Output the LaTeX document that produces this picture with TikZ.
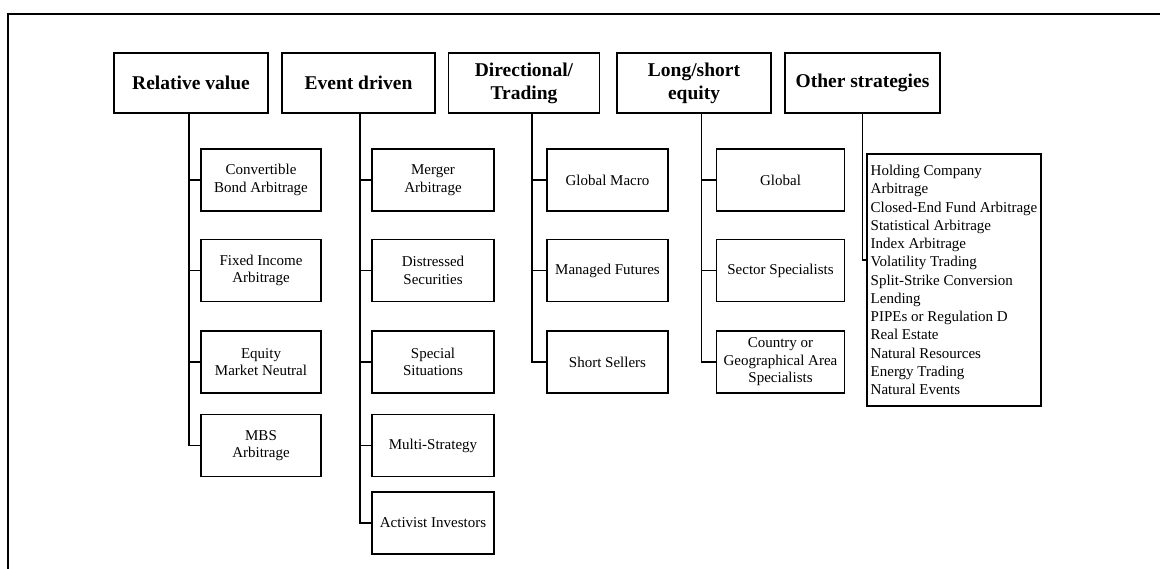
\documentclass[tikz,border=0pt]{standalone}
\usepackage{fontspec}
\setmainfont{Liberation Serif}
\usetikzlibrary{positioning}

\begin{document}
\begin{tikzpicture}[x=1pt,y=-1pt,
        head/.style={draw,line width=1.2pt,minimum width=154pt,minimum height=60pt,inner sep=2pt,align=center,font=\fontsize{19.5}{23}\selectfont\bfseries},
        sub/.style={draw,line width=1.2pt,minimum height=62pt,inner sep=2pt,align=center,font=\fontsize{15}{17.5}\selectfont},
        link/.style={line width=1.5pt}]
        \useasboundingbox (0,0) rectangle (1160,569);
        \draw[line width=1.5pt] (8,569) -- (8,14) -- (1160,14);
        % categorie principali
        \node[head] (rv) at (191,83) {Relative value};
        \node[head,minimum width=153pt] (ed) at (358.5,83) {Event driven};
        \node[head,minimum width=151pt] (dt) at (524,83) {Directional/\\Trading};
        \node[head] (ls) at (694,83) {Long/short\\equity};
        \node[head,minimum width=155pt] (os) at (862.5,83) {Other strategies};
        \coordinate (rvt) at ([xshift=-2pt]rv.south);
        \coordinate (edt) at ([xshift=1.5pt]ed.south);
        \coordinate (dtt) at ([xshift=8pt]dt.south);
        \coordinate (lst) at ([xshift=7.5pt]ls.south);
        \coordinate (ost) at (os.south);
        % sottocategorie
        \foreach \n/\y/\t in {1/180/{Convertible\\Bond Arbitrage},2/270.5/{Fixed Income\\Arbitrage},3/362/{Equity\\Market Neutral},4/445.5/{MBS\\Arbitrage}}{
            \node[sub,minimum width=120pt] (rv\n) at (261,\y) {\t};
        }
        \foreach \n/\y/\t in {1/180/{Merger\\Arbitrage},2/270.5/{Distressed\\Securities},3/362/{Special\\Situations},4/445.5/{Multi-Strategy},5/523/{Activist Investors}}{
            \node[sub,minimum width=122pt] (ed\n) at (433,\y) {\t};
        }
        \foreach \n/\y/\t in {1/180/{Global Macro},2/270.5/{Managed Futures},3/362/{Short Sellers}}{
            \node[sub,minimum width=121pt] (dt\n) at (607.5,\y) {\t};
        }
        \foreach \n/\y/\t in {1/180/{Global},2/270.5/{Sector Specialists},3/362/{Country or\\Geographical Area\\Specialists}}{
            \node[sub,minimum width=128pt] (ls\n) at (780.5,\y) {\t};
        }
        \node[draw,line width=1.2pt,minimum width=174pt,minimum height=252pt,inner sep=2pt,align=left,font=\fontsize{15}{18.25}\selectfont] (oth) at (954,280) {Holding Company\\Arbitrage\\Closed-End Fund Arbitrage\\Statistical Arbitrage\\Index Arbitrage\\Volatility Trading\\Split-Strike Conversion\\Lending\\PIPEs or Regulation D\\Real Estate\\Natural Resources\\Energy Trading\\Natural Events};
        % collegamenti
        \draw[link] (rvt) |- (rv4.west);
        \foreach \n in {1,2,3} \draw[link] (rvt |- rv\n.west) -- (rv\n.west);
        \draw[link] (edt) |- (ed5.west);
        \foreach \n in {1,2,3,4} \draw[link] (edt |- ed\n.west) -- (ed\n.west);
        \draw[link] (dtt) |- (dt3.west);
        \foreach \n in {1,2} \draw[link] (dtt |- dt\n.west) -- (dt\n.west);
        \draw[link] (lst) |- (ls3.west);
        \foreach \n in {1,2} \draw[link] (lst |- ls\n.west) -- (ls\n.west);
        \draw[link] (ost) |- ([yshift=20pt]oth.west);
    \end{tikzpicture}
\end{document}
